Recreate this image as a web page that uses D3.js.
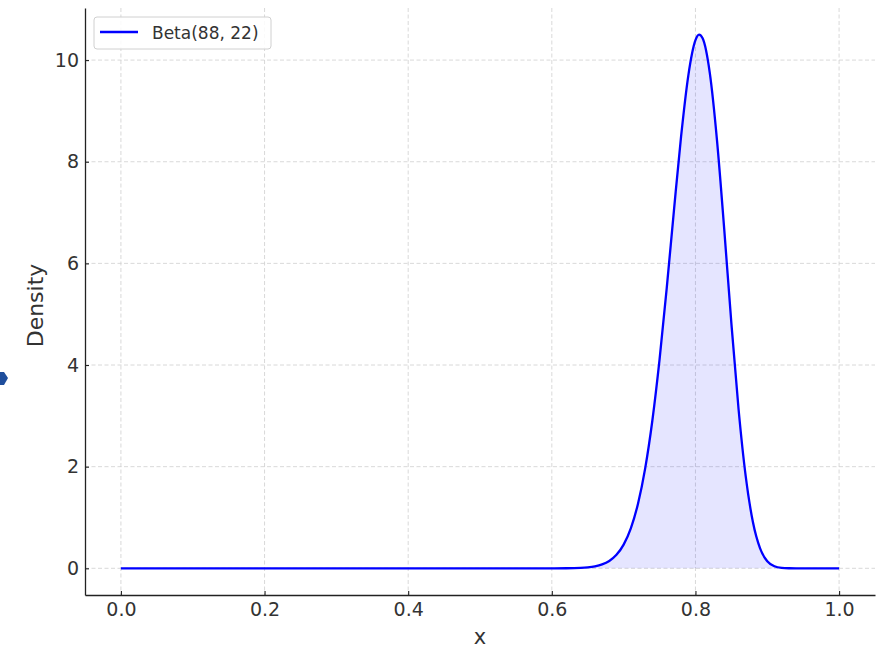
<!DOCTYPE html>
<html><head><meta charset="utf-8">
<script src="https://cdn.jsdelivr.net/npm/d3@7"></script>
<style>body{margin:0;background:#fff;} text{font-family:"DejaVu Sans",sans-serif;}</style>
</head><body><svg id="c" width="884" height="650"></svg>
<script>
const xs = [0.00,0.10,0.20,0.30,0.40,0.50,0.55,0.60,0.62,0.64,0.65,0.66,0.67,0.68,0.69,0.70,0.71,0.72,0.73,0.74,0.75,0.76,0.77,0.78,0.79,0.80,0.805,0.81,0.82,0.83,0.84,0.85,0.86,0.87,0.88,0.89,0.90,0.91,0.92,0.93,0.94,0.96,1.00];
const density = [0,0,0,0,0,0,0.00001,0.0003,0.0017,0.0088,0.0189,0.0387,0.0765,0.1455,0.266,0.467,0.787,1.272,1.967,2.909,4.105,5.514,7.034,8.498,9.691,10.391,10.50,10.429,9.744,8.422,6.684,4.826,3.135,1.808,0.910,0.391,0.140,0.040,0.0087,0.0014,0.0002,0,0];
const xTicks = [0.0,0.2,0.4,0.6,0.8,1.0];
const yTicks = [0,2,4,6,8,10];
const seriesLabel = "Beta(88, 22)";

const svg = d3.select("#c");
const L=85, R=875, T=8, B=595;
const x = d3.scaleLinear().domain([-0.05,1.05]).range([L,R]);
const y = d3.scaleLinear().domain([-0.525,11.025]).range([B,T]);
const data = xs.map((v,i)=>({x:v,y:density[i]}));

// grid
svg.append("g").selectAll("line").data(xTicks).join("line")
  .attr("x1",d=>x(d)).attr("x2",d=>x(d)).attr("y1",T).attr("y2",B)
  .attr("stroke","#cfcfcf").attr("stroke-width",0.8).attr("stroke-dasharray","4,2.5");
svg.append("g").selectAll("line").data(yTicks).join("line")
  .attr("y1",d=>y(d)).attr("y2",d=>y(d)).attr("x1",L).attr("x2",R)
  .attr("stroke","#cfcfcf").attr("stroke-width",0.8).attr("stroke-dasharray","4,2.5");

// area + line
svg.append("path").datum(data)
  .attr("d",d3.area().x(d=>x(d.x)).y0(y(0)).y1(d=>y(d.y)).curve(d3.curveMonotoneX))
  .attr("fill","#0000ff").attr("fill-opacity",0.1);
svg.append("path").datum(data)
  .attr("d",d3.line().x(d=>x(d.x)).y(d=>y(d.y)).curve(d3.curveMonotoneX))
  .attr("fill","none").attr("stroke","#0000ff").attr("stroke-width",2.3);

// axes
const xAxis = d3.axisBottom(x).tickValues(xTicks).tickFormat(d3.format(".1f")).tickSizeInner(-4).tickSizeOuter(0).tickPadding(8);
const gx = svg.append("g").attr("transform",`translate(0,${B})`).call(xAxis);
const yAxis = d3.axisLeft(y).tickValues(yTicks).tickFormat(d3.format("d")).tickSizeInner(-4).tickSizeOuter(0).tickPadding(6);
const gy = svg.append("g").attr("transform",`translate(${L},0)`).call(yAxis);
[gx,gy].forEach(g=>{
  g.select(".domain").attr("stroke","#222").attr("stroke-width",1.3);
  g.selectAll(".tick line").attr("stroke","#222").attr("stroke-width",1.1);
  g.selectAll(".tick text").attr("fill","#333").style("font-size","19px").style("font-family","DejaVu Sans");
});
svg.append("text").attr("x",(L+R)/2).attr("y",644).attr("text-anchor","middle")
  .style("font-size","21px").attr("fill","#333").text("x");
svg.append("text").attr("transform",`translate(43,${(T+B)/2+4}) rotate(-90)`).attr("text-anchor","middle")
  .style("font-size","22px").attr("fill","#333").text("Density");

// legend
const lg = svg.append("g");
lg.append("rect").attr("x",94).attr("y",17).attr("width",177).attr("height",32).attr("rx",3)
  .attr("fill","#fff").attr("fill-opacity",0.85).attr("stroke","#d0d0d0");
lg.append("line").attr("x1",100).attr("x2",138).attr("y1",32).attr("y2",32).attr("stroke","#0000ff").attr("stroke-width",2.3);
lg.append("text").attr("x",152).attr("y",39).style("font-size","17px").attr("fill","#333").text(seriesLabel);

// small artifact marker at left edge
svg.append("path").attr("d","M0,372 L4,372 L8,378 L4,385 L0,385 Z").attr("fill","#1f4e9c");
</script></body></html>
